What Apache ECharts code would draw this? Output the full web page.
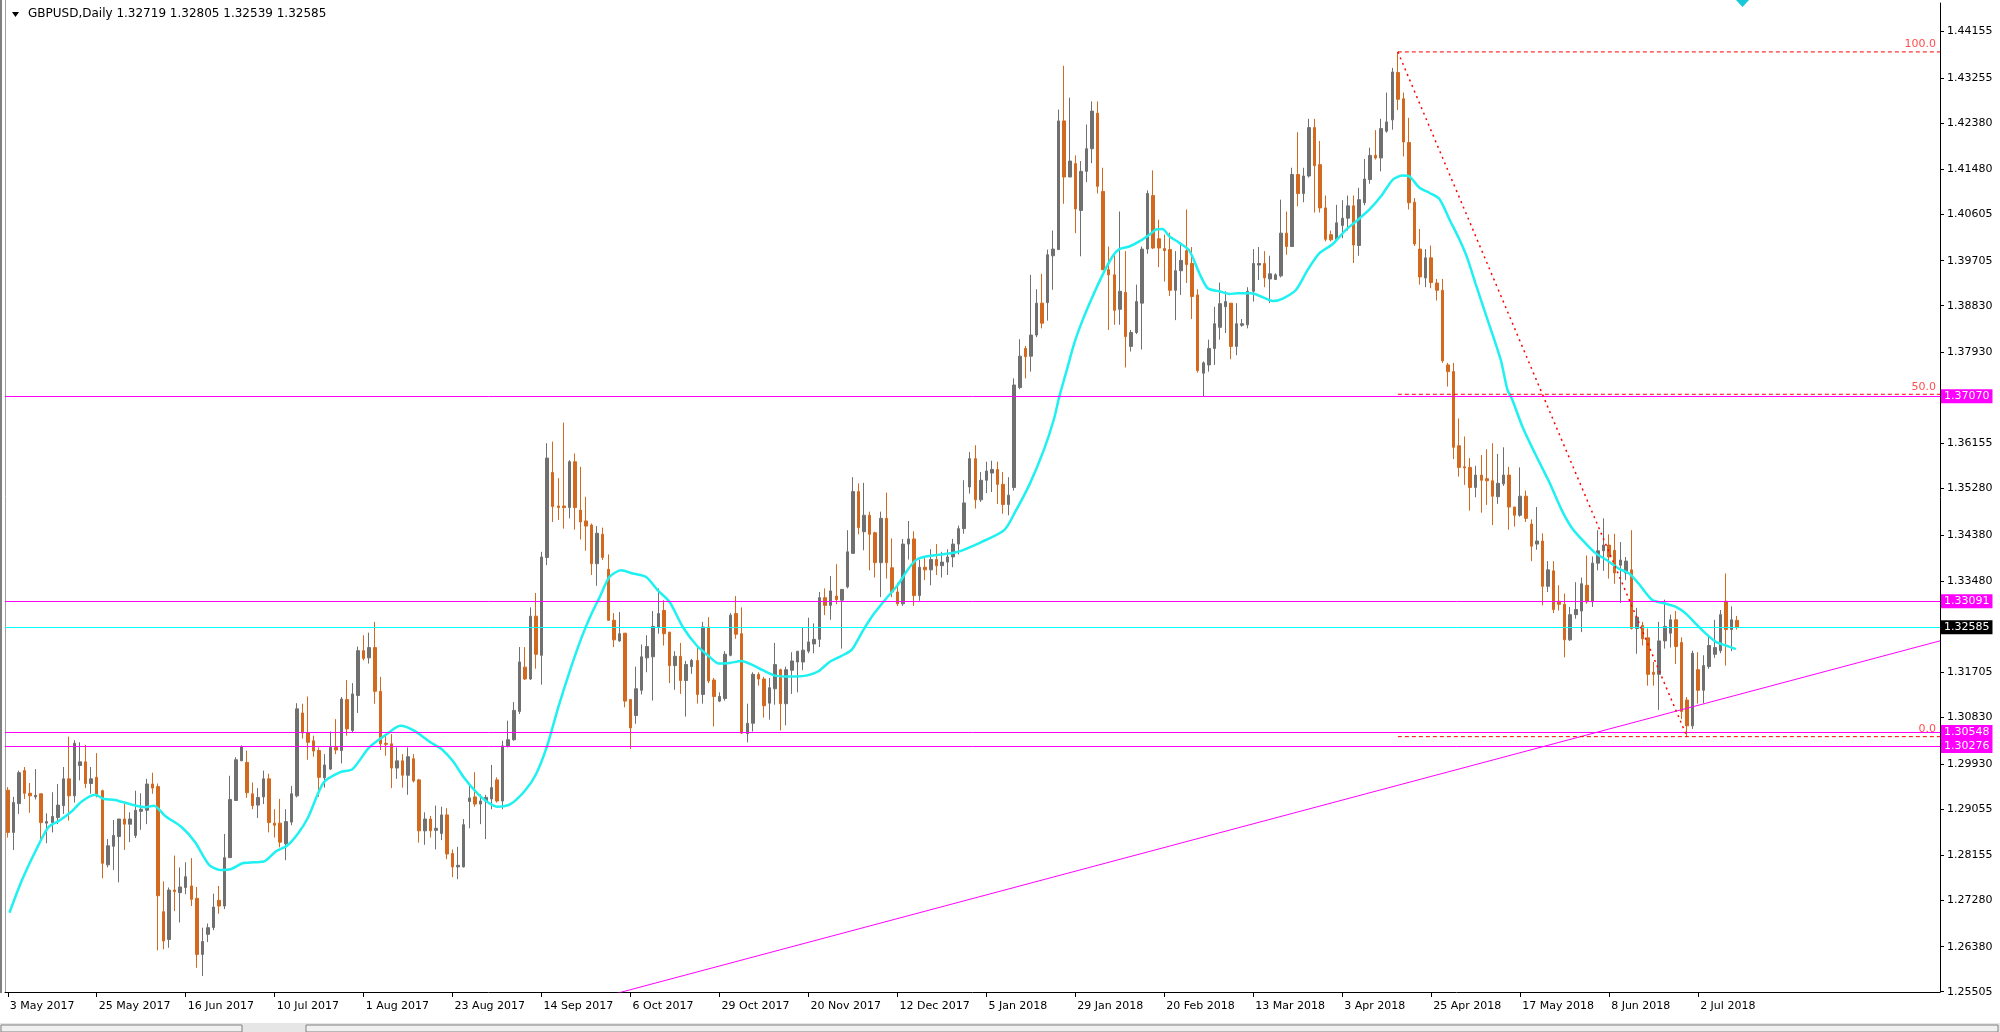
<!DOCTYPE html>
<html><head><meta charset="utf-8">
<script src="https://cdn.jsdelivr.net/npm/echarts@6/dist/echarts.min.js"></script>
<style>html,body{margin:0;padding:0;background:#fff;overflow:hidden}#c{width:2000px;height:1032px}</style>
</head><body><div id="c"></div>
<script>
const title = 'GBPUSD,Daily 1.32719 1.32805 1.32539 1.32585';
const dateLabels = ['3 May 2017','25 May 2017','16 Jun 2017','10 Jul 2017','1 Aug 2017','23 Aug 2017','14 Sep 2017','6 Oct 2017','29 Oct 2017','20 Nov 2017','12 Dec 2017','5 Jan 2018','29 Jan 2018','20 Feb 2018','13 Mar 2018','3 Apr 2018','25 Apr 2018','17 May 2018','8 Jun 2018','2 Jul 2018'];
const yTicks = [1.44155,1.43255,1.42380,1.41480,1.40605,1.39705,1.38830,1.37930,1.36155,1.35280,1.34380,1.33480,1.31705,1.30830,1.29930,1.29055,1.28155,1.27280,1.26380,1.25505];

const opens = [
1.2942,1.2860,1.2916,1.2980,1.2936,1.2929,1.2935,1.2878,1.2879,1.2889,
1.2912,1.2964,1.2931,1.2990,1.2997,1.2955,1.2967,1.2941,1.2797,1.2833,
1.2852,1.2886,1.2876,1.2854,1.2901,1.2903,1.2954,1.2949,1.2706,1.2652,
1.2748,1.2743,1.2753,1.2756,1.2732,1.2623,1.2662,1.2675,1.2728,1.2717,
1.2811,1.2922,1.2999,1.2996,1.2935,1.2913,1.2929,1.2964,1.2878,1.2878,
1.2838,1.2880,1.2931,1.3092,1.3053,1.3038,1.3019,1.2966,1.2983,1.3025,
1.3019,1.3118,1.3058,1.3126,1.3213,1.3199,1.3219,1.3134,1.3033,1.3032,
1.2985,1.2999,1.2971,1.3003,1.2962,1.2863,1.2886,1.2864,1.2858,1.2894,
1.2819,1.2793,1.2793,1.2920,1.2929,1.2915,1.2921,1.2925,1.2962,1.2921,
1.3028,1.3040,1.3095,1.3181,1.3158,1.3280,1.3204,1.3394,1.3559,1.3494,
1.3494,1.3491,1.3580,1.3486,1.3465,1.3457,1.3382,1.3439,1.3371,1.3272,
1.3232,1.3247,1.3118,1.3087,1.3136,1.3199,1.3201,1.3258,1.3291,1.3249,
1.3184,1.3202,1.3155,1.3182,1.3194,1.3128,1.3259,1.3156,1.3115,1.3120,
1.3204,1.3285,1.3246,1.3052,1.3072,1.3167,1.3158,1.3111,1.3139,1.3176,
1.3110,1.3175,1.3191,1.3191,1.3212,1.3226,1.3235,1.3316,1.3301,1.3319,
1.3311,1.3337,1.3402,1.3522,1.3444,1.3476,1.3442,1.3384,1.3470,1.3374,
1.3327,1.3304,1.3420,1.3430,1.3320,1.3375,1.3370,1.3390,1.3378,1.3385,
1.3395,1.3420,1.3450,1.3531,1.3586,1.3506,1.3544,1.3558,1.3565,1.3536,
1.3497,1.3530,1.3724,1.3800,1.3785,1.3826,1.3888,1.3889,1.3980,1.3992,
1.4242,1.4133,1.4159,1.4068,1.4144,1.4188,1.4257,1.4105,1.3953,1.3943,
1.3876,1.3909,1.3804,1.3831,1.3888,1.3993,1.4097,1.4013,1.3994,1.3992,
1.3913,1.3951,1.3990,1.3965,1.3904,1.3752,1.3768,1.3800,1.3841,1.3881,
1.3888,1.3804,1.3845,1.3846,1.3911,1.3962,1.3965,1.3935,1.3934,1.3941,
1.4024,1.3998,1.4138,1.4101,1.4135,1.4229,1.4157,1.4073,1.4021,1.4012,
1.4039,1.4053,1.4077,1.4000,1.4083,1.4128,1.4175,1.4170,1.4222,1.4244,
1.4336,1.4285,1.4200,1.4084,1.3993,1.3937,1.3976,1.3927,1.3913,1.3768,
1.3755,1.3611,1.3570,1.3569,1.3530,1.3554,1.3547,1.3543,1.3512,1.3537,
1.3554,1.3492,1.3476,1.3513,1.3459,1.3420,1.3426,1.3338,1.3368,1.3309,
1.3303,1.3234,1.3283,1.3290,1.3340,1.3308,1.3383,1.3407,1.3418,1.3408,
1.3379,1.3364,1.3370,1.3256,1.3262,1.3238,1.3171,1.3167,1.3232,1.3247,
1.3273,1.3229,1.3117,1.3067,1.3176,1.3136,1.3182,1.3206,1.3213,1.3309,
1.3254,1.32719];
const highs = [
1.2948,1.2929,1.2980,1.2987,1.2956,1.2983,1.2935,1.2897,1.2938,1.2954,
1.2987,1.3046,1.3039,1.3035,1.3030,1.2987,1.3014,1.2943,1.2847,1.2884,
1.2886,1.2916,1.2899,1.2941,1.2936,1.2964,1.2976,1.2955,1.2765,1.2753,
1.2815,1.2792,1.2802,1.2810,1.2754,1.2675,1.2683,1.2741,1.2756,1.2857,
1.2970,1.3006,1.3029,1.3019,1.2957,1.2946,1.2980,1.2974,1.2905,1.2925,
1.2905,1.2950,1.3111,1.3110,1.3124,1.3048,1.3025,1.3012,1.3056,1.3080,
1.3123,1.3156,1.3150,1.3221,1.3243,1.3248,1.3269,1.3162,1.3048,1.3051,
1.3025,1.3012,1.3025,1.3012,1.2964,1.2899,1.2892,1.2912,1.2910,1.2907,
1.2827,1.2832,1.2886,1.2955,1.2977,1.2934,1.2933,1.2991,1.2967,1.3038,
1.3077,1.3113,1.3220,1.3220,1.3297,1.3325,1.3405,1.3616,1.3619,1.3548,
1.3656,1.3583,1.3596,1.3570,1.3512,1.3460,1.3455,1.3452,1.3400,1.3286,
1.3288,1.3247,1.3118,1.3182,1.3225,1.3243,1.3290,1.3334,1.3311,1.3249,
1.3212,1.3228,1.3193,1.3197,1.3219,1.3269,1.3278,1.3160,1.3132,1.3212,
1.3286,1.3319,1.3297,1.3110,1.3171,1.3171,1.3162,1.3160,1.3228,1.3178,
1.3182,1.3210,1.3212,1.3259,1.3277,1.3266,1.3327,1.3334,1.3358,1.3381,
1.3332,1.3447,1.3550,1.3538,1.3539,1.3483,1.3444,1.3483,1.3520,1.3431,
1.3345,1.3430,1.3465,1.3445,1.3390,1.3395,1.3410,1.3420,1.3405,1.3410,
1.3430,1.3456,1.3544,1.3599,1.3612,1.3560,1.3580,1.3582,1.3580,1.3560,
1.3550,1.3742,1.3818,1.3805,1.3943,1.3915,1.3945,1.3992,1.4029,1.4264,
1.4349,1.4287,1.4175,1.4164,1.4235,1.4280,1.4280,1.4151,1.3998,1.3984,
1.4066,1.3989,1.3836,1.3924,1.3998,1.4107,1.4146,1.4050,1.4021,1.4025,
1.3989,1.4006,1.4070,1.3997,1.3915,1.3775,1.3817,1.3881,1.3928,1.3911,
1.3888,1.3888,1.3857,1.3919,1.3993,1.3997,1.3989,1.3980,1.3946,1.4089,
1.4066,1.4151,1.4220,1.4151,1.4246,1.4246,1.4203,1.4097,1.4029,1.4079,
1.4088,1.4097,1.4097,1.4112,1.4168,1.4190,1.4224,1.4246,1.4297,1.4345,
1.4376,1.4297,1.4248,1.4092,1.4032,1.3993,1.4000,1.3935,1.3935,1.3772,
1.3772,1.3664,1.3629,1.3587,1.3572,1.3593,1.3604,1.3616,1.3595,1.3608,
1.3570,1.3492,1.3569,1.3524,1.3468,1.3492,1.3441,1.3387,1.3387,1.3340,
1.3324,1.3298,1.3346,1.3355,1.3398,1.3396,1.3447,1.3470,1.3439,1.3440,
1.3424,1.3395,1.3447,1.3296,1.3269,1.3256,1.3191,1.3269,1.3312,1.3283,
1.3290,1.3239,1.3123,1.3213,1.3210,1.3204,1.3241,1.3273,1.3292,1.3363,
1.3299,1.32805];
const lows = [
1.2850,1.2826,1.2896,1.2925,1.2898,1.2924,1.2847,1.2839,1.2860,1.2876,
1.2896,1.2883,1.2918,1.2961,1.2946,1.2935,1.2928,1.2771,1.2792,1.2787,
1.2763,1.2826,1.2841,1.2849,1.2865,1.2876,1.2935,1.2631,1.2633,1.2636,
1.2707,1.2685,1.2740,1.2717,1.2597,1.2581,1.2647,1.2670,1.2702,1.2711,
1.2811,1.2921,1.2999,1.2927,1.2905,1.2888,1.2915,1.2860,1.2850,1.2831,
1.2806,1.2874,1.2928,1.3042,1.3001,1.3007,1.2929,1.2947,1.2981,1.3012,
1.2994,1.3048,1.3055,1.3092,1.3194,1.3188,1.3110,1.3020,1.3009,1.2946,
1.2964,1.2947,1.2933,1.2957,1.2840,1.2836,1.2850,1.2827,1.2845,1.2808,
1.2773,1.2769,1.2792,1.2868,1.2910,1.2876,1.2847,1.2905,1.2918,1.2905,
1.3025,1.3038,1.3090,1.3156,1.3156,1.3178,1.3147,1.3379,1.3463,1.3467,
1.3450,1.3470,1.3448,1.3429,1.3407,1.3360,1.3339,1.3389,1.3271,1.3220,
1.3230,1.3103,1.3022,1.3071,1.3128,1.3171,1.3116,1.3246,1.3223,1.3150,
1.3137,1.3129,1.3085,1.3168,1.3110,1.3110,1.3150,1.3066,1.3113,1.3116,
1.3202,1.3236,1.3051,1.3035,1.3056,1.3145,1.3083,1.3079,1.3108,1.3058,
1.3068,1.3129,1.3132,1.3175,1.3208,1.3208,1.3220,1.3282,1.3273,1.3303,
1.3217,1.3334,1.3401,1.3439,1.3408,1.3369,1.3355,1.3317,1.3353,1.3317,
1.3300,1.3300,1.3390,1.3300,1.3310,1.3350,1.3340,1.3360,1.3355,1.3360,
1.3375,1.3400,1.3440,1.3518,1.3489,1.3502,1.3519,1.3521,1.3498,1.3479,
1.3476,1.3524,1.3721,1.3742,1.3755,1.3822,1.3839,1.3854,1.3914,1.3992,
1.4081,1.4133,1.4024,1.3979,1.4123,1.4160,1.4101,1.3952,1.3836,1.3846,
1.3846,1.3763,1.3794,1.3828,1.3798,1.3984,1.3993,1.3958,1.3930,1.3902,
1.3855,1.3904,1.3927,1.3857,1.3753,1.3707,1.3755,1.3768,1.3817,1.3830,
1.3779,1.3787,1.3842,1.3839,1.3891,1.3933,1.3919,1.3888,1.3933,1.3938,
1.3982,1.3998,1.4076,1.4084,1.4132,1.4064,1.4064,1.4008,1.4008,1.4011,
1.4014,1.4029,1.3966,1.3980,1.4078,1.4120,1.4167,1.4144,1.4219,1.4225,
1.4263,1.4173,1.4070,1.3999,1.3924,1.3919,1.3917,1.3893,1.3772,1.3726,
1.3585,1.3551,1.3535,1.3485,1.3511,1.3481,1.3496,1.3457,1.3498,1.3533,
1.3448,1.3454,1.3473,1.3463,1.3387,1.3409,1.3301,1.3327,1.3286,1.3291,
1.3200,1.3232,1.3275,1.3249,1.3304,1.3298,1.3369,1.3368,1.3353,1.3343,
1.3306,1.3350,1.3254,1.3207,1.3223,1.3145,1.3145,1.3098,1.3217,1.3219,
1.3187,1.3080,1.3045,1.3061,1.3110,1.3111,1.3178,1.3199,1.3208,1.3184,
1.3212,1.32539];
const closes = [
1.2860,1.2918,1.2976,1.2936,1.2931,1.2932,1.2879,1.2881,1.2891,1.2913,
1.2964,1.2931,1.3033,1.2997,1.2955,1.2964,1.2931,1.2800,1.2834,1.2854,
1.2886,1.2876,1.2886,1.2903,1.2905,1.2954,1.2946,1.2737,1.2649,1.2748,
1.2745,1.2754,1.2774,1.2730,1.2623,1.2648,1.2675,1.2715,1.2717,1.2811,
1.2924,1.3001,1.3026,1.2937,1.2912,1.2928,1.2964,1.2879,1.2874,1.2841,
1.2881,1.2935,1.3100,1.3053,1.3035,1.3018,1.2967,1.2991,1.3025,1.3020,
1.3119,1.3061,1.3129,1.3213,1.3198,1.3219,1.3134,1.3032,1.3031,1.2985,
1.2999,1.2971,1.3007,1.2960,1.2863,1.2886,1.2863,1.2868,1.2894,1.2818,
1.2793,1.2796,1.2875,1.2927,1.2915,1.2921,1.2928,1.2947,1.2921,1.3028,
1.3040,1.3097,1.3191,1.3158,1.3280,1.3206,1.3395,1.3587,1.3493,1.3491,
1.3491,1.3580,1.3491,1.3463,1.3455,1.3382,1.3441,1.3394,1.3272,1.3234,
1.3246,1.3115,1.3063,1.3139,1.3201,1.3221,1.3260,1.3285,1.3246,1.3184,
1.3202,1.3155,1.3186,1.3194,1.3128,1.3259,1.3154,1.3124,1.3124,1.3206,
1.3282,1.3245,1.3053,1.3072,1.3167,1.3158,1.3106,1.3141,1.3186,1.3110,
1.3176,1.3193,1.3212,1.3214,1.3230,1.3235,1.3316,1.3301,1.3329,1.3312,
1.3332,1.3405,1.3522,1.3452,1.3476,1.3439,1.3384,1.3470,1.3384,1.3327,
1.3304,1.3420,1.3430,1.3320,1.3375,1.3370,1.3390,1.3378,1.3385,1.3395,
1.3420,1.3450,1.3500,1.3586,1.3506,1.3544,1.3562,1.3565,1.3536,1.3497,
1.3515,1.3729,1.3785,1.3784,1.3826,1.3888,1.3849,1.3982,1.3993,1.4242,
1.4133,1.4164,1.4071,1.4144,1.4188,1.4261,1.4115,1.3953,1.3943,1.3874,
1.3911,1.3823,1.3831,1.3891,1.3993,1.4101,1.3995,1.3995,1.3990,1.3913,
1.3951,1.3971,1.3963,1.3901,1.3757,1.3772,1.3800,1.3848,1.3887,1.3891,
1.3804,1.3848,1.3848,1.3911,1.3965,1.3965,1.3937,1.3945,1.3943,1.4024,
1.3998,1.4138,1.4101,1.4135,1.4229,1.4155,1.4073,1.4012,1.4011,1.4044,
1.4053,1.4077,1.4001,1.4089,1.4129,1.4175,1.4170,1.4227,1.4240,1.4337,
1.4284,1.4201,1.4083,1.4003,1.3939,1.3976,1.3928,1.3913,1.3776,1.3755,
1.3608,1.3569,1.3568,1.3530,1.3554,1.3544,1.3543,1.3513,1.3538,1.3554,
1.3492,1.3476,1.3513,1.3470,1.3416,1.3426,1.3338,1.3370,1.3293,1.3303,
1.3234,1.3283,1.3293,1.3343,1.3308,1.3383,1.3407,1.3418,1.3395,1.3364,
1.3389,1.3387,1.3256,1.3278,1.3236,1.3167,1.3167,1.3232,1.3260,1.3273,
1.3221,1.3095,1.3067,1.3208,1.3136,1.3184,1.3223,1.3219,1.3283,1.3254,
1.3273,1.32585];

// moving average (bar position, value)
const maX = [0.3,2.5,5,7.3,9.3,11.3,13.3,15.7,17.3,19.3,22.3,24.7,26.3,28.3,31.3,33.7,36.2,38.2,40.2,42.2,44.3,46.2,48.2,50.2,52.2,54,56.8,59.8,62,65,68.2,70.6,73,76,78,80,82,84,86,88,90.4,93,95,97,99,101,103,105,106.5,108.2,110.3,112.4,114.8,116.9,119,121.4,123.9,125.9,127.9,129.8,131.9,133.8,135.8,137.8,139.8,141.8,143.8,145.8,147.8,149.8,151.8,153.8,155.8,157.8,159.8,163.6,170.6,175.1,179.2,181.3,183.8,186.3,188.1,189.1,190.3,191.8,193.3,195.1,196.9,198.7,199.9,201.7,203.5,205.3,206.5,207.7,208.9,210.7,212.5,214.3,215.8,217.9,219.7,221.2,223.6,225.4,227.5,229.3,231.7,233.8,235.9,238.3,240.7,242.5,244.9,247,249.1,250.9,252.1,253.9,255.7,257.5,259.3,261.1,262.5,264,266,268.5,269.7,270.6,272.4,274.8,277.2,279.6,281.4,283.8,285.6,287.4,289.8,291.6,293.4,295.7,298.2,300,301.8,303.6,305.4,307.2,309,310.8];
const maY = [1.2704,1.2766,1.2824,1.2870,1.2883,1.2899,1.2920,1.2933,1.2925,1.2923,1.2914,1.2909,1.2912,1.2892,1.2870,1.2841,1.2797,1.2787,1.2789,1.2800,1.2802,1.2804,1.2823,1.2834,1.2858,1.2889,1.2957,1.2977,1.2983,1.3025,1.3051,1.3067,1.3058,1.3035,1.3022,1.2999,1.2967,1.2941,1.2921,1.2910,1.2915,1.2941,1.2973,1.3028,1.3103,1.3171,1.3233,1.3285,1.3318,1.3356,1.3369,1.3363,1.3356,1.3330,1.3308,1.3259,1.3223,1.3204,1.3188,1.3189,1.3193,1.3186,1.3175,1.3165,1.3163,1.3163,1.3165,1.3173,1.3191,1.3202,1.3215,1.3252,1.3285,1.3312,1.3337,1.3391,1.3404,1.3424,1.3447,1.3485,1.3537,1.3602,1.3661,1.3706,1.3752,1.3810,1.3855,1.3901,1.3943,1.3979,1.3993,1.3998,1.4008,1.4021,1.4031,1.4032,1.4018,1.4005,1.3990,1.3946,1.3917,1.3911,1.3906,1.3907,1.3907,1.3901,1.3892,1.3897,1.3914,1.3953,1.3985,1.4003,1.4031,1.4047,1.4070,1.4096,1.4128,1.4136,1.4134,1.4112,1.4102,1.4090,1.4050,1.4011,1.3975,1.3925,1.3860,1.3778,1.3720,1.3700,1.3648,1.3593,1.3541,1.3483,1.3450,1.3421,1.3402,1.3390,1.3372,1.3363,1.3342,1.3312,1.3304,1.3298,1.3285,1.3265,1.3246,1.3230,1.3223,1.3216];

const levelLines = [1.37070, 1.33091, 1.30548, 1.30276];
const bidPrice = 1.32585;
const trendPoints = [[100, 1.2520], [347.5, 1.3232]];
const fibHigh = [250, 1.4376];
const fibLow = [302, 1.3046];
const fibLevels = [100, 50, 0];

const N = 348;
const FONT = 'DejaVu Sans';
const categories = Array.from({length: N}, (_, i) => String(i));
const candleData = opens.map((o, i) => [o, closes[i], lows[i], highs[i]]);
const showTick = i => i % 16 === 0 && i / 16 < dateLabels.length;
const fibPrice = L => fibLow[1] + (fibHigh[1] - fibLow[1]) * L / 100;

const chart = echarts.init(document.getElementById('c'), null, {renderer: 'canvas'});
const series = [
  {
    type: 'candlestick', xAxisIndex: 0, yAxisIndex: 0, barWidth: 3, data: candleData, z: 3,
    itemStyle: {color: '#707070', color0: '#d2691e', borderColor: '#707070', borderColor0: '#d2691e', borderWidth: 1}
  },
  {
    type: 'line', xAxisIndex: 1, yAxisIndex: 0, data: maX.map((x, k) => [x, maY[k]]),
    showSymbol: false, symbol: 'none', smooth: 0.25, z: 4,
    lineStyle: {color: '#1ff0f0', width: 2.5}
  },
  {
    type: 'line', xAxisIndex: 1, yAxisIndex: 0, data: trendPoints, symbol: 'none', z: 5,
    lineStyle: {color: '#ff00ff', width: 1},
    markLine: {
      silent: true, symbol: ['none', 'none'], animation: false, precision: 5,
      label: {show: true, position: 'end', distance: 1, color: '#fff', fontFamily: FONT, fontSize: 11,
        padding: [2, 3, 1, 3], formatter: p => Number(p.value).toFixed(5)},
      data: levelLines.map(v => ({yAxis: v, lineStyle: {color: '#ff00ff', width: 1, type: 'solid'},
        label: {backgroundColor: '#ff00ff'}})).concat([
        {yAxis: bidPrice, lineStyle: {color: '#00ffff', width: 1, type: 'solid'}, label: {backgroundColor: '#000'}}])
    }
  }
];
fibLevels.forEach(L => {
  series.push({type: 'line', xAxisIndex: 1, yAxisIndex: 0, symbol: 'none', z: 5,
    data: [[fibHigh[0], fibPrice(L)], [N - 0.5, fibPrice(L)]],
    lineStyle: {color: '#ff0000', width: 1, type: [4, 3]}});
});
series.push({type: 'line', xAxisIndex: 1, yAxisIndex: 0, symbol: 'none', z: 5,
  data: [fibHigh, fibLow], lineStyle: {color: '#ff0000', width: 1.5, type: [2, 4]}});
series.push({type: 'scatter', xAxisIndex: 1, yAxisIndex: 0, symbolSize: 2, z: 6, clip: false,
  itemStyle: {color: 'rgba(255,255,255,0)'},
  data: fibLevels.map(L => ({value: [N - 1.2, fibPrice(L)], name: L.toFixed(1)})),
  label: {show: true, position: 'top', align: 'right', distance: 1, offset: [0, 0],
    color: '#ff2020', fontFamily: FONT, fontSize: 11, formatter: p => p.name}});

chart.setOption({
  animation: false,
  backgroundColor: '#ffffff',
  grid: {left: 5, right: 60, top: 3, bottom: 40},
  xAxis: [
    {type: 'category', data: categories, boundaryGap: true,
      axisLine: {show: true, lineStyle: {color: '#000', width: 1}},
      axisTick: {show: true, alignWithLabel: true, interval: i => showTick(i), length: 5, lineStyle: {color: '#000'}},
      axisLabel: {interval: i => showTick(i), formatter: v => { const i = +v; return showTick(i) ? dateLabels[i / 16] : ''; },
        align: 'left', padding: [0, 0, 0, 2], margin: 9, color: '#000', fontFamily: FONT, fontSize: 11},
      splitLine: {show: false}},
    {type: 'value', min: -0.5, max: N - 0.5, show: false}
  ],
  yAxis: [{type: 'value', position: 'right', min: 1.2550, max: 1.4471,
    axisLine: {show: true, onZero: false, lineStyle: {color: '#000', width: 1}},
    axisTick: {show: true, customValues: yTicks, length: 4, lineStyle: {color: '#000'}},
    axisLabel: {customValues: yTicks, formatter: v => Number(v).toFixed(5), margin: 7, color: '#000', fontFamily: FONT, fontSize: 11},
    splitLine: {show: false}}],
  series: series,
  graphic: [
    {type: 'rect', shape: {x: 0, y: 0, width: 2, height: 993}, style: {fill: '#808080'}, silent: true},
    {type: 'line', shape: {x1: 5.5, y1: 0, x2: 5.5, y2: 993}, style: {stroke: '#a0a0a0', lineWidth: 1}, silent: true},
    {type: 'polygon', shape: {points: [[12, 12], [19, 12], [15.5, 17]]}, style: {fill: '#000'}, silent: true},
    {type: 'text', x: 28, y: 8, style: {text: title, fill: '#000', font: '12px "DejaVu Sans"'}, silent: true},
    {type: 'polygon', shape: {points: [[1736, 0], [1749, 0], [1742.5, 7]]}, style: {fill: '#16c8d8'}, silent: true},
    {type: 'rect', shape: {x: 0, y: 1023, width: 2000, height: 9}, style: {fill: '#e6e6e6'}, silent: true},
    {type: 'rect', shape: {x: 1, y: 1025, width: 241, height: 7}, style: {fill: '#f0f0f0', stroke: '#808080', lineWidth: 1}, silent: true},
    {type: 'rect', shape: {x: 306, y: 1025, width: 1692, height: 7}, style: {fill: '#f0f0f0', stroke: '#808080', lineWidth: 1}, silent: true}
  ]
});
</script>
</body></html>
